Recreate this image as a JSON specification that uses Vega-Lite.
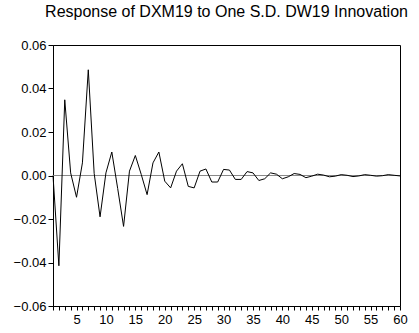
{
  "$schema": "https://vega.github.io/schema/vega-lite/v6.json",
  "width": 347,
  "height": 261,
  "autosize": {"type": "none"},
  "padding": {"left": 53, "top": 45, "right": 19, "bottom": 27},
  "background": "white",
  "title": {
    "text": "Response of DXM19 to One S.D. DW19 Innovation",
    "font": "Liberation Sans",
    "fontSize": 16,
    "fontWeight": "normal",
    "color": "black",
    "anchor": "middle",
    "offset": 19
  },
  "config": {
    "view": {"stroke": "black", "strokeWidth": 1},
    "axis": {
      "labelFont": "Liberation Sans",
      "labelFontSize": 13,
      "labelColor": "black",
      "domainColor": "black",
      "tickColor": "black",
      "grid": false,
      "title": null
    }
  },
  "data": {
    "values": [
      {"h": 1, "v": 0.0},
      {"h": 2, "v": -0.0415},
      {"h": 3, "v": 0.0348},
      {"h": 4, "v": 0.0012},
      {"h": 5, "v": -0.0100},
      {"h": 6, "v": 0.0058},
      {"h": 7, "v": 0.0486},
      {"h": 8, "v": 0.0010},
      {"h": 9, "v": -0.0190},
      {"h": 10, "v": 0.0012},
      {"h": 11, "v": 0.0108},
      {"h": 12, "v": -0.0060},
      {"h": 13, "v": -0.0234},
      {"h": 14, "v": 0.0020},
      {"h": 15, "v": 0.0092},
      {"h": 16, "v": 0.0005},
      {"h": 17, "v": -0.0088},
      {"h": 18, "v": 0.0058},
      {"h": 19, "v": 0.0108},
      {"h": 20, "v": -0.0026},
      {"h": 21, "v": -0.0057},
      {"h": 22, "v": 0.0020},
      {"h": 23, "v": 0.0054},
      {"h": 24, "v": -0.0050},
      {"h": 25, "v": -0.0057},
      {"h": 26, "v": 0.0020},
      {"h": 27, "v": 0.0030},
      {"h": 28, "v": -0.0030},
      {"h": 29, "v": -0.0030},
      {"h": 30, "v": 0.0028},
      {"h": 31, "v": 0.0025},
      {"h": 32, "v": -0.0018},
      {"h": 33, "v": -0.0018},
      {"h": 34, "v": 0.0018},
      {"h": 35, "v": 0.0012},
      {"h": 36, "v": -0.0023},
      {"h": 37, "v": -0.0015},
      {"h": 38, "v": 0.0012},
      {"h": 39, "v": 0.0006},
      {"h": 40, "v": -0.0015},
      {"h": 41, "v": -0.0006},
      {"h": 42, "v": 0.0009},
      {"h": 43, "v": 0.0005},
      {"h": 44, "v": -0.0010},
      {"h": 45, "v": -0.0003},
      {"h": 46, "v": 0.0006},
      {"h": 47, "v": 0.0002},
      {"h": 48, "v": -0.0006},
      {"h": 49, "v": -0.0003},
      {"h": 50, "v": 0.0004},
      {"h": 51, "v": 0.0001},
      {"h": 52, "v": -0.0005},
      {"h": 53, "v": -0.0002},
      {"h": 54, "v": 0.0004},
      {"h": 55, "v": 0.0001},
      {"h": 56, "v": -0.0003},
      {"h": 57, "v": -0.0001},
      {"h": 58, "v": 0.0004},
      {"h": 59, "v": 0.0001},
      {"h": 60, "v": -0.0002}
    ]
  },
  "layer": [
    {
      "mark": {"type": "rule", "color": "#888888", "strokeWidth": 1},
      "data": {"values": [{"z": 0}]},
      "encoding": {
        "y": {"field": "z", "type": "quantitative", "scale": {"domain": [-0.06, 0.06], "nice": false}}
      }
    },
    {
      "mark": {"type": "line", "color": "black", "strokeWidth": 1},
      "encoding": {
        "x": {
          "field": "h",
          "type": "quantitative",
          "scale": {"domain": [1, 60], "nice": false, "zero": false},
          "axis": {
            "values": [1,2,3,4,5,6,7,8,9,10,11,12,13,14,15,16,17,18,19,20,21,22,23,24,25,26,27,28,29,30,31,32,33,34,35,36,37,38,39,40,41,42,43,44,45,46,47,48,49,50,51,52,53,54,55,56,57,58,59,60],
            "labelExpr": "datum.value % 5 === 0 ? datum.label : ''",
            "labelOverlap": false,
            "labelBound": false,
            "labelFlush": false,
            "ticks": true,
            "tickSize": 4,
            "tickWidth": 1,
            "tickColor": "black",
            "tickOpacity": 1,
            "labelPadding": 3
          }
        },
        "y": {
          "field": "v",
          "type": "quantitative",
          "scale": {"domain": [-0.06, 0.06], "nice": false},
          "axis": {
            "values": [-0.06, -0.04, -0.02, 0, 0.02, 0.04, 0.06],
            "format": ".2f",
            "tickSize": 5,
            "labelPadding": 2,
            "labelOverlap": false
          }
        }
      }
    }
  ]
}
